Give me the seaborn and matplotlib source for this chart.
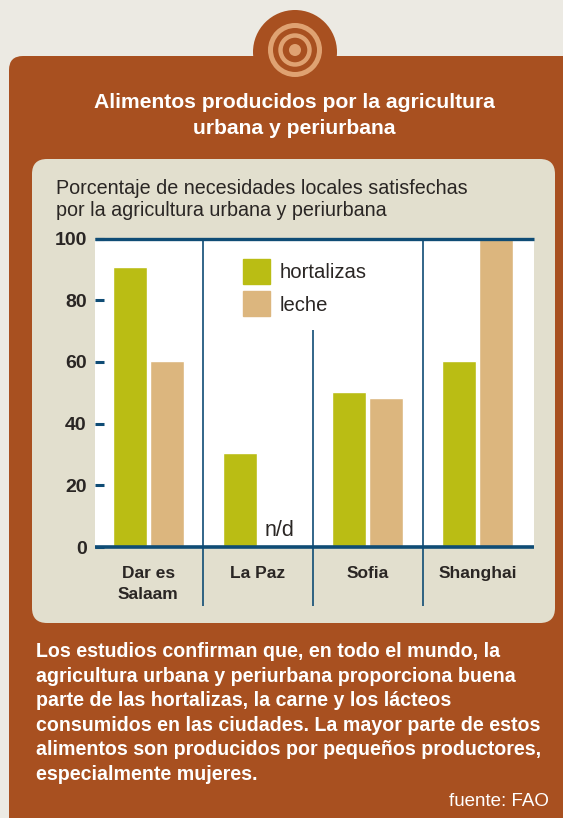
import pandas as pd
from matplotlib import pyplot as plt
from matplotlib.patches import Circle, FancyBboxPatch, Patch
import seaborn as sns

ciudades = ["Dar es\nSalaam", "La Paz", "Sofia", "Shanghai"]
hortalizas = [90.8, 30.5, 50.2, 60.2]
leche = [60.2, None, 48.4, 100]
marcas_y = [0, 20, 40, 60, 80, 100]

titulo = "Alimentos producidos por la agricultura\nurbana y periurbana"
subtitulo = "Porcentaje de necesidades locales satisfechas\npor la agricultura urbana y periurbana"
parrafo = ("Los estudios confirman que, en todo el mundo, la\n"
           "agricultura urbana y periurbana proporciona buena\n"
           "parte de las hortalizas, la carne y los lácteos\n"
           "consumidos en las ciudades. La mayor parte de estos\n"
           "alimentos son producidos por pequeños productores,\n"
           "especialmente mujeres.")

FONDO = "#ECEAE3"
OCRE = "#A85020"
BEIGE = "#E2DFCE"
ANILLO = "#DFA272"
VERDE = "#BABD14"
ARENA = "#DCB67E"
AZUL = "#0F4C75"
TEXTO = "#2A2624"

sns.set_theme(style="white")
plt.rcParams["font.family"] = ["Liberation Sans", "DejaVu Sans"]

W, H = 563, 818
fig = plt.figure(figsize=(W/100, H/100), dpi=100, facecolor=FONDO)

# capa de fondo en pixeles
bg = fig.add_axes([0, 0, 1, 1])
bg.set_xlim(0, W)
bg.set_ylim(H, 0)
bg.axis("off")

bg.add_patch(Circle((295, 52), 42, color=OCRE, lw=0))
bg.add_patch(FancyBboxPatch((9+14, 56+14), 600, 800, boxstyle="round,pad=14,rounding_size=14",
                            fc=OCRE, ec="none"))
bg.add_patch(FancyBboxPatch((32+15, 159+15), 523-30, 464-30, boxstyle="round,pad=15,rounding_size=15",
                            fc=BEIGE, ec="none"))

# icono de anillos
bg.add_patch(Circle((295, 50), 24.5, fc="none", ec=ANILLO, lw=3.6))
bg.add_patch(Circle((295, 50), 14.5, fc="none", ec=ANILLO, lw=3.2))
bg.add_patch(Circle((295, 50), 6, fc=ANILLO, lw=0))

bg.text(294, 115.5, titulo, color="white", fontsize=15.2, fontweight="bold",
        ha="center", va="center", linespacing=1.45)
bg.text(56, 199.5, subtitulo, color=TEXTO, fontsize=14.2, ha="left", va="center",
        linespacing=1.25)
bg.text(36, 713, parrafo, color="white", fontsize=14.1, fontweight="bold",
        ha="left", va="center", linespacing=1.37)
bg.text(549, 802, "fuente: FAO", color="white", fontsize=13.5, ha="right", va="center")

# grafico de barras
df = pd.DataFrame({"ciudad": ciudades, "hortalizas": hortalizas, "leche": leche})
df = df.melt(id_vars="ciudad", var_name="tipo", value_name="valor")

ax = fig.add_axes([95/W, 1-547/H, 439/W, 308.5/H], facecolor="white")
sns.barplot(data=df, x="ciudad", y="valor", hue="tipo", palette=[VERDE, ARENA],
            width=0.673, gap=0.08, saturation=1, ax=ax, legend=False)
ax.set_xlim(-0.485, 3.515)
ax.set_ylim(0, 100)
ax.set_xlabel("")
ax.set_ylabel("")
sns.despine(ax=ax, left=True, right=True, top=True, bottom=True)

ax.set_yticks(marcas_y)
ax.tick_params(axis="y", direction="in", length=6.5, width=2.2, color=AZUL, left=True,
               labelsize=14, labelcolor=TEXTO, pad=6)
ax.tick_params(axis="x", length=0, labelsize=12.5, labelcolor=TEXTO, pad=14)
for lab in ax.get_yticklabels() + ax.get_xticklabels():
    lab.set_fontweight("bold")
for lab in ax.get_xticklabels():
    lab.set_verticalalignment("top")
    lab.set_linespacing(1.5)

ax.axhline(100, color=AZUL, lw=2.4, clip_on=False, zorder=5, solid_capstyle="butt")
ax.axhline(0, color=AZUL, lw=2.6, clip_on=False, zorder=5, solid_capstyle="butt")
ax.vlines([0.5, 2.5], -19, 100, color=AZUL, lw=1.2, clip_on=False, zorder=4)
ax.vlines([1.5], -19, 70.3, color=AZUL, lw=1.2, clip_on=False, zorder=4)

ax.text(1.2, 5.3, "n/d", color=TEXTO, fontsize=15.5, ha="center", va="center")

ax.legend(handles=[Patch(color=VERDE, label="hortalizas"), Patch(color=ARENA, label="leche")],
          loc="upper left", bbox_to_anchor=(148/439, 1-20/308.5), borderaxespad=0, borderpad=0,
          frameon=False, fontsize=14.6, labelcolor=TEXTO, handlelength=1.33, handleheight=1.52,
          handletextpad=0.49, labelspacing=0.39)

fig.savefig("out.png", dpi=100, facecolor=FONDO)
